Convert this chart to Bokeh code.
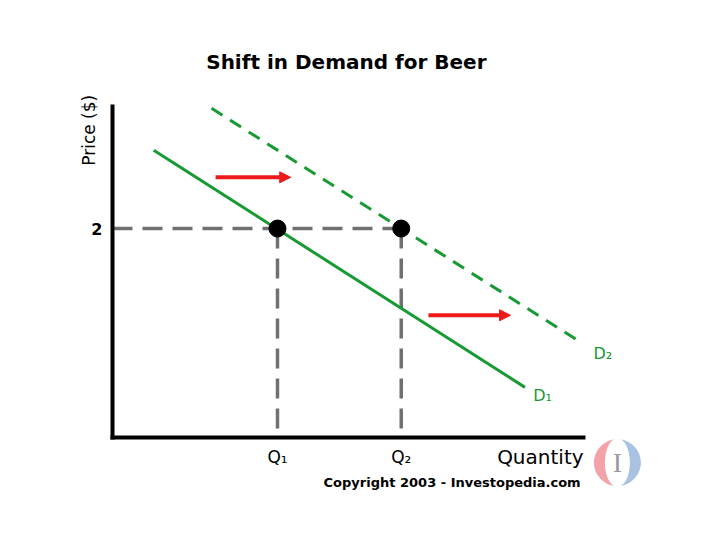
from math import pi
from bokeh.plotting import figure
from bokeh.models import Range1d, FixedTicker, Arrow, NormalHead, ColumnDataSource
from bokeh.embed import file_html
from bokeh.resources import INLINE
from bokeh.core.properties import value

# ---- data ----
title_text = "Shift in Demand for Beer"
q_points = [4, 7]          # Q1, Q2
q_labels = ["Q\u2081", "Q\u2082"]
price_level = 2
price_label = "2"
d1_q = [1.0, 10.0]
d1_p = [2.75, 0.48]
d2_q = [2.4, 11.4]
d2_p = [3.15, 0.9]
curve_names = ["D\u2081", "D\u2082"]
curve_label_q = [10.2, 11.66]
curve_label_p = [0.40, 0.80]
arrow_q_start = [2.5, 7.66]
arrow_q_end = [4.32, 9.65]
arrow_p = [2.49, 1.17]
q_axis_max = 11.42
p_axis_max = 3.17

GREEN = "#179a33"
GRAY = "#707070"
RED = "#ee1a1a"
FONT = "DejaVu Sans"

p = figure(width=704, height=524, output_backend="svg", toolbar_location=None,
           x_range=Range1d(-2.715, 14.352), y_range=Range1d(-0.832, 4.182),
           min_border=0)
p.outline_line_color = None
p.xgrid.visible = False
p.ygrid.visible = False
p.background_fill_color = "white"
p.border_fill_color = "white"

# axes at origin
for ax, bmax in ((p.xaxis[0], q_axis_max), (p.yaxis[0], p_axis_max)):
    ax.fixed_location = 0
    ax.bounds = (0, bmax)
    ax.axis_line_width = 4
    ax.axis_line_color = "black"
    ax.axis_line_cap = "square"
    ax.major_tick_line_color = None
    ax.minor_tick_line_color = None
    ax.major_tick_out = 0
    ax.major_tick_in = 0
    ax.major_label_text_font = FONT
    ax.major_label_text_color = "black"

p.xaxis.ticker = FixedTicker(ticks=q_points)
p.xaxis.major_label_overrides = {q: lab for q, lab in zip(q_points, q_labels)}
p.xaxis.major_label_text_font_size = "17px"
p.xaxis.major_label_standoff = 9
p.yaxis.ticker = FixedTicker(ticks=[price_level])
p.yaxis.major_label_overrides = {price_level: price_label}
p.yaxis.major_label_text_font_size = "16px"
p.yaxis.major_label_text_font_style = "bold"
p.yaxis.major_label_standoff = 10

# dashed guide lines
p.segment(x0=[0] + q_points, y0=[price_level] * 3,
          x1=[q_points[1]] + q_points, y1=[price_level, 0, 0],
          line_color=GRAY, line_width=3.5, line_dash="20 10")

# demand curves
p.line(d1_q, d1_p, line_color=GREEN, line_width=3)
p.line(d2_q, d2_p, line_color=GREEN, line_width=3, line_dash="13 9")

# equilibrium points
p.scatter(q_points, [price_level] * 2, size=17, color="black")

# arrows
src = ColumnDataSource(dict(x0=arrow_q_start, x1=arrow_q_end, y=arrow_p))
p.add_layout(Arrow(end=NormalHead(size=11, fill_color=RED, line_color=RED, line_width=1),
                   x_start="x0", y_start="y", x_end="x1", y_end="y", source=src,
                   line_color=RED, line_width=4))

# curve labels
p.text(curve_label_q, curve_label_p, text=curve_names, text_color=GREEN,
       text_font=value(FONT), text_font_size="16px", text_baseline="middle", text_align="left")

# texts
p.text([5.67], [3.59], text=[title_text], text_font=value(FONT), text_font_size="20px",
       text_font_style="bold", text_align="center", text_baseline="middle", text_color="black")
p.text([-0.58], [2.94], text=["Price ($)"], angle=pi / 2, text_font=value(FONT),
       text_font_size="17px", text_align="center", text_baseline="middle", text_color="black")
p.text([q_axis_max], [-0.19], text=["Quantity"], text_font=value(FONT), text_font_size="20px",
       text_align="right", text_baseline="middle", text_color="black")
p.text([11.35], [-0.43], text=["Copyright 2003 - Investopedia.com"], text_font=value(FONT),
       text_font_size="13px", text_font_style="bold", text_align="right",
       text_baseline="middle", text_color="black")

# logo
logo_x, logo_y = 12.24, -0.24
p.wedge([logo_x], [logo_y], radius=23, radius_units="screen", start_angle=pi / 2,
        end_angle=3 * pi / 2, color="#f3a3a8")
p.wedge([logo_x], [logo_y], radius=23, radius_units="screen", start_angle=-pi / 2,
        end_angle=pi / 2, color="#a9c2e2")
p.ellipse([logo_x], [logo_y], width=24, height=48, width_units="screen",
          height_units="screen", color="white")
p.text([logo_x], [logo_y], text=["I"], text_font=value("Liberation Serif"),
       text_font_size="28px", text_align="center", text_baseline="middle", text_color="#9a9a9a")

open("out.html", "w").write(file_html(p, INLINE))
